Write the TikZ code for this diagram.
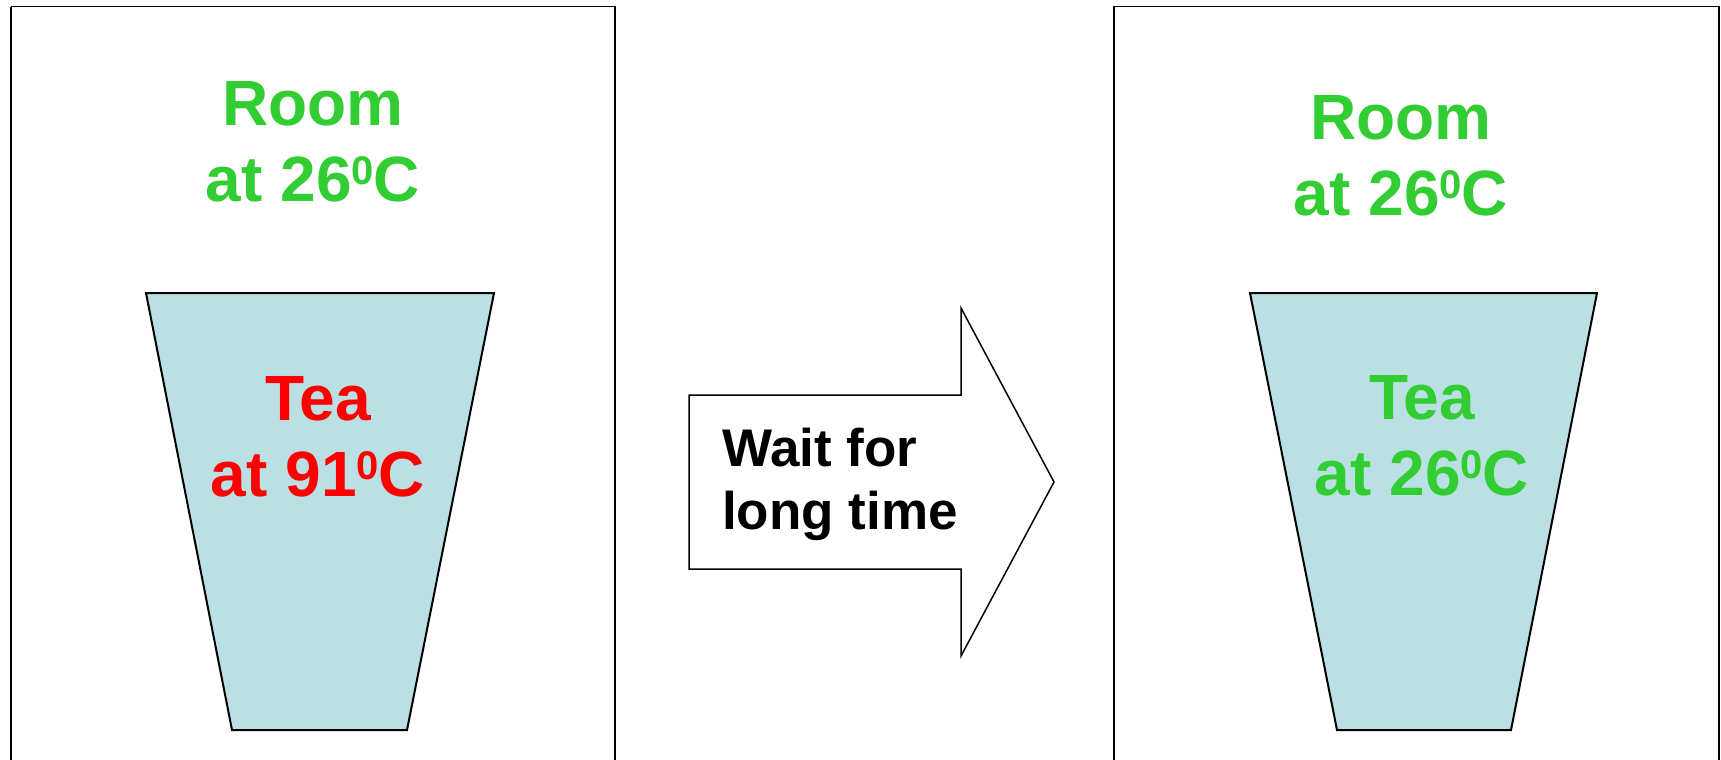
\documentclass[tikz,border=0pt]{standalone}
\usepackage{fontspec}
\setmainfont{Liberation Sans}
\definecolor{roomgreen}{RGB}{50,205,50}
\definecolor{hotred}{RGB}{255,0,0}
\definecolor{teablue}{RGB}{187,224,227}
% raised degree-style zero, top aligned with the digits
\newcommand{\supz}{\raisebox{17pt}{\fontsize{40}{40}\selectfont 0}}
\tikzset{
  frame/.style={draw=black, line width=1.5pt},
  cup/.style={draw=black, fill=teablue, line width=2pt, line join=miter},
  bigtext/.style={font=\fontsize{64}{76}\selectfont\bfseries, align=center, anchor=base, inner sep=0pt},
  waittext/.style={font=\fontsize{53}{63}\selectfont\bfseries, align=left, anchor=base west, inner sep=0pt},
  bigarrow/.style={draw=black, fill=white, line width=1.5pt, line join=miter}
}
\begin{document}
\begin{tikzpicture}[x=1pt,y=-1pt]
  \fill[white] (0,0) rectangle (1721,760);
  \clip (0,0) rectangle (1721,760);

  % left room and cup
  \draw[frame] (11,6.6) -- (11,780) (11,6.6) -- (615,6.6) -- (615,780);
  \draw[cup] (146,293) -- (494,293) -- (407,730) -- (232,730) -- cycle;
  \node[bigtext, text=roomgreen] (roomA) at (313,201) {Room\\at 26\supz C};
  \node[bigtext, text=hotred] (teaA) at (318,496) {Tea\\at 91\supz C};

  % block arrow
  \draw[bigarrow] (689,395) -- (961,395) -- (961,308) -- (1054,482)
    -- (961,656) -- (961,569) -- (689,569) -- cycle;
  \node[waittext] (wait) at (722,529) {Wait for\\long time};

  % right room and cup
  \draw[frame] (1114,780) -- (1114,6.6) -- (1719,6.6) -- (1719,780);
  \draw[cup] (1250,293) -- (1597,293) -- (1511,730) -- (1337,730) -- cycle;
  \node[bigtext, text=roomgreen] (roomB) at (1401,215) {Room\\at 26\supz C};
  \node[bigtext, text=roomgreen] (teaB) at (1422,495) {Tea\\at 26\supz C};
\end{tikzpicture}
\end{document}
